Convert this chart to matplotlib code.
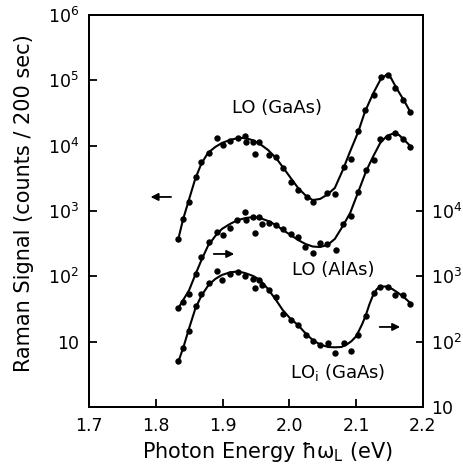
import numpy as np
import matplotlib
matplotlib.use("Agg")
import matplotlib.pyplot as plt
from matplotlib.ticker import FixedLocator, FixedFormatter, NullLocator

plt.rcParams["font.family"] = "DejaVu Sans"
plt.rcParams["mathtext.default"] = "regular"

# ── datos ───────────────────────────────────────────────────────────────
# LO (GaAs): eje izquierdo (counts / 200 sec)
gaas_x = [1.833, 1.840, 1.850, 1.860, 1.868, 1.879, 1.891, 1.900, 1.911, 1.923,
          1.934, 1.935, 1.946, 1.949, 1.955, 1.970, 1.980, 1.990, 2.002, 2.013,
          2.026, 2.036, 2.056, 2.068, 2.082, 2.092, 2.103, 2.113, 2.126, 2.137,
          2.148, 2.158, 2.170, 2.181]
gaas_y = [373, 755, 1390, 3320, 5690, 7810, 13300, 10200, 11800, 13200,
          14100, 11400, 11500, 7460, 11400, 7280, 6780, 4480, 2780, 2100,
          1660, 1390, 1910, 1820, 4720, 6190, 16800, 35200, 59700, 111000,
          121000, 76400, 50000, 32800]
gaas_fit_x = [1.833, 1.841, 1.850, 1.859, 1.868, 1.878, 1.889, 1.899, 1.911, 1.923,
              1.934, 1.944, 1.956, 1.968, 1.980, 1.990, 2.002, 2.013, 2.025, 2.035,
              2.046, 2.056, 2.068, 2.080, 2.090, 2.103, 2.113, 2.125, 2.136, 2.145,
              2.152, 2.161, 2.172, 2.181]
gaas_fit_y = [348, 755, 1530, 3090, 5240, 7730, 9540, 11000, 12200, 13100,
              13100, 12200, 10600, 8590, 6480, 4720, 3200, 2250, 1700, 1470,
              1530, 1760, 2250, 4240, 7730, 16200, 32800, 61800, 101000, 121000,
              109000, 73800, 48300, 32800]

# LO (AlAs): eje derecho
alas_x = [1.833, 1.840, 1.850, 1.860, 1.868, 1.879, 1.891, 1.900, 1.911, 1.922,
          1.934, 1.935, 1.946, 1.949, 1.955, 1.959, 1.970, 1.980, 1.990, 2.002,
          2.013, 2.024, 2.035, 2.046, 2.057, 2.070, 2.081, 2.092, 2.103, 2.115,
          2.126, 2.136, 2.147, 2.158, 2.170, 2.181]
alas_y = [324, 409, 537, 1086, 1955, 3320, 4690, 4290, 5440, 7410,
          9490, 7280, 8180, 4560, 8010, 6330, 6440, 6110, 5250, 4450,
          3960, 2780, 2300, 3200, 3130, 2530, 6330, 8300, 19800, 42400,
          61000, 125000, 138000, 156000, 125000, 95400]
alas_fit_x = [1.833, 1.841, 1.850, 1.859, 1.869, 1.878, 1.889, 1.899, 1.911, 1.923,
              1.935, 1.946, 1.956, 1.968, 1.980, 1.990, 2.002, 2.013, 2.024, 2.035,
              2.046, 2.057, 2.068, 2.080, 2.091, 2.103, 2.115, 2.125, 2.136, 2.146,
              2.156, 2.164, 2.172, 2.181]
alas_fit_y = [316, 434, 618, 1050, 1840, 2910, 4140, 5310, 6330, 7280,
              7820, 8090, 7820, 7030, 6110, 5120, 4290, 3600, 3130, 2860,
              2810, 3020, 3730, 5900, 9330, 19500, 41000, 67100, 110000, 141000,
              154000, 146000, 122000, 98900]

# LO_i (GaAs): eje derecho
loi_x = [1.833, 1.840, 1.850, 1.860, 1.868, 1.879, 1.891, 1.899, 1.911, 1.923,
         1.934, 1.946, 1.949, 1.955, 1.959, 1.970, 1.980, 1.990, 2.002, 2.013,
         2.025, 2.035, 2.046, 2.058, 2.069, 2.082, 2.092, 2.102, 2.114, 2.126,
         2.136, 2.148, 2.158, 2.170, 2.181]
loi_y = [50.6, 80.9, 148, 352, 537, 782, 1220, 879, 1100, 1180,
         1010, 901, 656, 879, 737, 618, 478, 262, 215, 182,
         126, 102, 88.9, 94.4, 66.4, 94.4, 72.8, 126, 245, 562,
         694, 675, 518, 527, 377]
loi_fit_x = [1.833, 1.841, 1.850, 1.859, 1.868, 1.879, 1.889, 1.899, 1.911, 1.923,
             1.934, 1.946, 1.956, 1.968, 1.980, 1.990, 2.002, 2.013, 2.025, 2.035,
             2.046, 2.058, 2.068, 2.078, 2.087, 2.093, 2.099, 2.104, 2.109, 2.114,
             2.120, 2.126, 2.131, 2.137, 2.145, 2.154, 2.163, 2.172, 2.181]
loi_fit_y = [47.1, 80.0, 162, 316, 500, 737, 911, 1050, 1150, 1190,
             1120, 1010, 879, 640, 434, 305, 222, 180, 131, 106,
             90.5, 82.9, 82.0, 82.9, 92.1, 102, 118, 146, 186, 247,
             378, 537, 640, 699, 699, 640, 556, 474, 391]

xticks = [1.7, 1.8, 1.9, 2.0, 2.1, 2.2]
xticklabels = ["1.7", "1.8", "1.9", "2.0", "2.1", "2.2"]
lticks = [1e1, 1e2, 1e3, 1e4, 1e5, 1e6]
lticklabels = ["10", "$10^2$", "$10^3$", "$10^4$", "$10^5$", "$10^6$"]
rticks = [1e1, 1e2, 1e3, 1e4]
rticklabels = ["10", "$10^2$", "$10^3$", "$10^4$"]

fig = plt.figure(figsize=(4.64, 4.68), dpi=100)
ax = fig.add_axes([0.1918, 0.1303, 0.7198, 0.8377])
ax2 = ax.twinx()

ax.set_yscale("log"); ax2.set_yscale("log")
ax.set_xlim(1.7, 2.2)
ax.set_ylim(1, 1e6)
ax2.set_ylim(10, 1e7)

MS = 4.6; LW = 1.5
ax.plot(gaas_fit_x, gaas_fit_y, "-", color="k", lw=LW)
ax.plot(gaas_x, gaas_y, "o", color="k", ms=MS, mew=0)
ax2.plot(alas_fit_x, alas_fit_y, "-", color="k", lw=LW)
ax2.plot(alas_x, alas_y, "o", color="k", ms=MS, mew=0)
ax2.plot(loi_fit_x, loi_fit_y, "-", color="k", lw=LW)
ax2.plot(loi_x, loi_y, "o", color="k", ms=MS, mew=0)

# ejes / ticks
for a in (ax, ax2):
    for s in a.spines.values():
        s.set_linewidth(1.4)
ax.xaxis.set_major_locator(FixedLocator(xticks))
ax.xaxis.set_major_formatter(FixedFormatter(xticklabels))
ax.xaxis.set_minor_locator(NullLocator())
ax.yaxis.set_major_locator(FixedLocator(lticks))
ax.yaxis.set_major_formatter(FixedFormatter(lticklabels))
ax.yaxis.set_minor_locator(NullLocator())
ax2.yaxis.set_major_locator(FixedLocator(rticks))
ax2.yaxis.set_major_formatter(FixedFormatter(rticklabels))
ax2.yaxis.set_minor_locator(NullLocator())
ax.tick_params(axis="both", direction="in", length=5.5, width=1.3, labelsize=12.5)
ax.tick_params(axis="x", pad=7)
ax.tick_params(axis="y", pad=7)
ax.tick_params(top=False, right=False)
ax2.tick_params(axis="y", direction="in", length=5, width=1.3, labelsize=12.5, pad=6)

ax.set_ylabel("Raman Signal (counts / 200 sec)", fontsize=15)
ax.yaxis.set_label_coords(-0.165, 0.52)
ax.set_xlabel("Photon Energy ħω$_L$ (eV)", fontsize=15)
ax.xaxis.set_label_coords(0.535, -0.085)

# rótulos de las curvas
ax.text(1.9814, 37700, "LO (GaAs)", fontsize=13, ha="center", va="center")
ax.text(2.0653, 125, "LO (AlAs)", fontsize=13, ha="center", va="center")
ax.text(2.0728, 3.43, "LO$_i$ (GaAs)", fontsize=13, ha="center", va="center")

# flechas: a qué eje va cada curva
arr = dict(arrowstyle="-|>", color="k", lw=1.3, mutation_scale=11)
ax.annotate("", xy=(1.788, 1640), xytext=(1.827, 1640), arrowprops=arr)
ax.annotate("", xy=(1.9216, 220), xytext=(1.8826, 220), arrowprops=arr)
ax.annotate("", xy=(2.170, 16.8), xytext=(2.131, 16.8), arrowprops=arr)

fig.savefig("out.png", dpi=100, facecolor="white")
